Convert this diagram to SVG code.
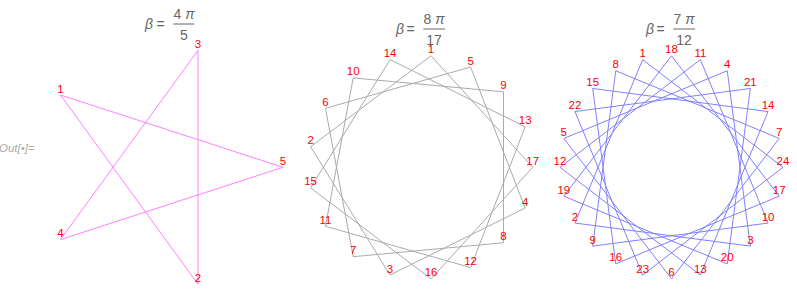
<svg xmlns="http://www.w3.org/2000/svg" width="797" height="298" viewBox="0 0 797 298">
<style>
text{font-family:"Liberation Sans",Arial,sans-serif}
.lbl{font-size:11.5px;fill:#ff0000;text-anchor:middle}
.ttl{font-size:14px;fill:#666666}
.it{font-style:italic}
.mid{text-anchor:middle}
.bar{stroke:#666666;stroke-width:1}
.out{font-size:11.5px;fill:#aaaaaa;font-style:italic}
polygon{fill:none;stroke-width:1;stroke-linejoin:miter}
</style>
<rect width="797" height="298" fill="#ffffff"/>
<text class="out" x="-1" y="152">Out[•]=</text>

<g id="plot1">
<g id="title1" class="ttl">
<text class="it" x="145" y="28.5">β</text>
<text x="156.5" y="28.5">=</text>
<text class="mid" x="184" y="18.5">4 <tspan class="it">π</tspan></text>
<line class="bar" x1="173.3" y1="24" x2="194.3" y2="24"/>
<text class="mid" x="184" y="39.5">5</text>
</g>
<g id="edges1">
<polygon stroke="#ff80ff" points="60.49,95.00 198.01,284.28 198.01,50.32 60.49,239.60 283,167.3"/>
</g>
<g id="labels1" class="lbl">
<text x="60.49" y="92.5">1</text>
<text x="198.01" y="281.8">2</text>
<text x="198.01" y="47.8">3</text>
<text x="60.49" y="237.1">4</text>
<text x="283" y="164.8">5</text>
</g>
</g>

<g id="plot2">
<g id="title2" class="ttl">
<text class="it" x="396" y="33.5">β</text>
<text x="406.5" y="33.5">=</text>
<text class="mid" x="434" y="23.5">8 <tspan class="it">π</tspan></text>
<line class="bar" x1="423.3" y1="29" x2="445" y2="29"/>
<text class="mid" x="434" y="44.5">17</text>
</g>
<g id="edges2">
<polygon stroke="#aaaaaa" points="431.03,55.78 310.61,146.72 390.05,275.02 525.14,208.00 470.62,67.04 325.48,108.34 353.21,256.68 503.47,242.75 503.47,91.85 353.21,77.92 325.48,226.26 470.62,267.56 525.14,126.84 390.05,59.58 310.61,187.88 431.03,278.82 532.7,167.3"/>
</g>
<g id="labels2" class="lbl">
<text x="431.03" y="53.3">1</text>
<text x="310.61" y="144.2">2</text>
<text x="390.05" y="272.5">3</text>
<text x="525.14" y="205.5">4</text>
<text x="470.62" y="64.5">5</text>
<text x="325.48" y="105.8">6</text>
<text x="353.21" y="254.2">7</text>
<text x="503.47" y="240.2">8</text>
<text x="503.47" y="89.3">9</text>
<text x="353.21" y="75.4">10</text>
<text x="325.48" y="223.8">11</text>
<text x="470.62" y="265.1">12</text>
<text x="525.14" y="124.3">13</text>
<text x="390.05" y="57.1">14</text>
<text x="310.61" y="185.4">15</text>
<text x="431.03" y="276.3">16</text>
<text x="532.7" y="164.8">17</text>
</g>
</g>

<g id="plot3">
<g id="title3" class="ttl">
<text class="it" x="646" y="33.5">β</text>
<text x="656.5" y="33.5">=</text>
<text class="mid" x="684" y="23.5">7 <tspan class="it">π</tspan></text>
<line class="bar" x1="673.3" y1="29" x2="695" y2="29"/>
<text class="mid" x="684" y="44.5">12</text>
</g>
<g id="edges3">
<polygon stroke="#8080ff" points="642.64,59.6 574.94,223.05 750.34,246.14 727.25,70.74 563.8,138.44 671.5,278.8 779.2,138.44 615.75,70.74 592.66,246.14 768.06,223.05 700.36,59.6 560.0,167.3 700.36,275.0 768.06,111.55 592.66,88.46 615.75,263.86 779.2,196.16 671.5,55.8 563.8,196.16 727.25,263.86 750.34,88.46 574.94,111.55 642.64,275.0 783.0,167.3"/>
</g>
<g id="labels3" class="lbl">
<text x="642.64" y="57.1">1</text>
<text x="574.94" y="220.5">2</text>
<text x="750.34" y="243.6">3</text>
<text x="727.25" y="68.2">4</text>
<text x="563.8" y="135.9">5</text>
<text x="671.5" y="276.3">6</text>
<text x="779.2" y="135.9">7</text>
<text x="615.75" y="68.2">8</text>
<text x="592.66" y="243.6">9</text>
<text x="768.06" y="220.5">10</text>
<text x="700.36" y="57.1">11</text>
<text x="560.0" y="164.8">12</text>
<text x="700.36" y="272.5">13</text>
<text x="768.06" y="109.0">14</text>
<text x="592.66" y="85.9">15</text>
<text x="615.75" y="261.3">16</text>
<text x="779.2" y="193.6">17</text>
<text x="671.5" y="53.3">18</text>
<text x="563.8" y="193.6">19</text>
<text x="727.25" y="261.3">20</text>
<text x="750.34" y="85.9">21</text>
<text x="574.94" y="109.0">22</text>
<text x="642.64" y="272.5">23</text>
<text x="783.0" y="164.8">24</text>
</g>
</g>
</svg>
